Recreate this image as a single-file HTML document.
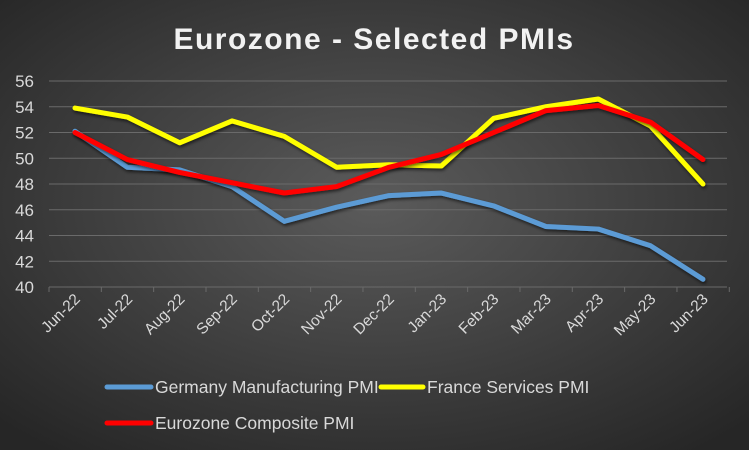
<!DOCTYPE html>
<html><head><style>
html,body{margin:0;padding:0;width:749px;height:450px;overflow:hidden}
</style></head><body>
<svg id="s" width="749" height="450" xmlns="http://www.w3.org/2000/svg" font-family="Liberation Sans, sans-serif">
<defs>
<radialGradient id="bg" cx="50%" cy="45%" r="70%">
<stop offset="0" stop-color="#5b5b5b"/><stop offset="1" stop-color="#262626"/>
</radialGradient>
<filter id="sh" x="-10%" y="-10%" width="120%" height="130%"><feDropShadow dx="1" dy="2" stdDeviation="1.5" flood-color="#000" flood-opacity="0.6"/></filter>
</defs>
<rect width="749" height="450" fill="url(#bg)"/>
<text x="374" y="49" text-anchor="middle" fill="#f2f2f2" font-size="30" font-weight="bold" letter-spacing="1.5">Eurozone - Selected PMIs</text>
<g id="g"></g>
<g font-size="17.5" fill="#d9d9d9">
<line x1="107" y1="387" x2="151" y2="387" stroke="#5b9bd5" stroke-width="5" stroke-linecap="round"/>
<text x="155" y="393">Germany Manufacturing PMI</text>
<line x1="381" y1="387" x2="423" y2="387" stroke="#ffff00" stroke-width="5" stroke-linecap="round"/>
<text x="427" y="393">France Services PMI</text>
<line x1="107" y1="423" x2="151" y2="423" stroke="#ff0000" stroke-width="5" stroke-linecap="round"/>
<text x="155" y="429">Eurozone Composite PMI</text>
</g>
</svg>
<script>
var g=document.getElementById('g'),h='';
function Y(v){return 287-(v-40)*12.875}
function X(i){return 75+i*52.33}
for(var v=40;v<=56;v+=2){h+='<line x1="49" x2="727" y1="'+Y(v)+'" y2="'+Y(v)+'" stroke="#6a6a6a" stroke-width="1"/>';
h+='<text x="34" y="'+(Y(v)+6)+'" text-anchor="end" font-size="17" fill="#d9d9d9">'+v+'</text>';}
for(var i=0;i<=13;i++){var x=49+i*52.33;h+='<line x1="'+x+'" x2="'+x+'" y1="287" y2="292" stroke="#6a6a6a"/>';}
var m=['Jun-22','Jul-22','Aug-22','Sep-22','Oct-22','Nov-22','Dec-22','Jan-23','Feb-23','Mar-23','Apr-23','May-23','Jun-23'];
m.forEach(function(t,i){var x=X(i)+6,y=300;h+='<text transform="translate('+x+','+y+') rotate(-45)" text-anchor="end" font-size="15.5" fill="#d9d9d9">'+t+'</text>';});
var D=[['#5b9bd5',[52.1,49.3,49.1,47.8,45.1,46.2,47.1,47.3,46.3,44.7,44.5,43.2,40.6]],
['#ffff00',[53.9,53.2,51.2,52.9,51.7,49.3,49.5,49.4,53.1,54.0,54.6,52.5,48.0]],
['#ff0000',[52.0,49.9,48.9,48.1,47.3,47.8,49.3,50.3,52.0,53.7,54.1,52.8,49.9]]];
D.forEach(function(d){var p=d[1].map(function(v,i){return X(i)+','+Y(v)}).join(' ');
h+='<polyline points="'+p+'" fill="none" stroke="'+d[0]+'" stroke-width="5" stroke-linejoin="round" stroke-linecap="round" filter="url(#sh)"/>';});
g.innerHTML=h;
</script>
</body></html>
